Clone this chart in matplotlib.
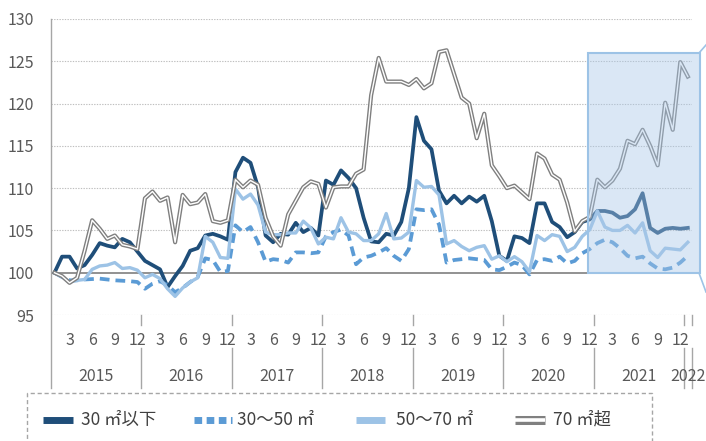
import numpy as np
import matplotlib
matplotlib.use("Agg")
import matplotlib.pyplot as plt
from matplotlib.lines import Line2D
from matplotlib.patches import Rectangle

plt.rcParams['font.family'] = ['Noto Sans CJK JP', 'DejaVu Sans']

# monthly index, Jan 2015 = 100 (Jan 2015 .. Jan 2022)
s_30 = [100, 101.9, 101.9, 100.5, 100.9, 102.1, 103.5, 103.2, 103.0, 104.0,
        103.6, 102.5, 101.4, 100.9, 100.4, 98.3, 99.6, 100.8, 102.6, 102.9,
        104.4, 104.6, 104.3, 103.9, 111.9, 113.6, 113.0, 110.1, 104.4, 103.6,
        104.6, 104.5, 105.9, 104.8, 105.3, 104.4, 110.9, 110.4, 112.1, 111.2,
        110.0, 106.5, 103.7, 103.6, 104.6, 104.4, 106.0, 110.0, 118.4, 115.6,
        114.6, 109.7, 108.2, 109.1, 108.2, 109.0, 108.4, 109.1, 106.1, 102.0,
        101.4, 104.3, 104.1, 103.5, 108.2, 108.2, 106.0, 105.4, 104.2, 104.8,
        106.0, 106.3, 107.3, 107.3, 107.1, 106.5, 106.7, 107.5, 109.4, 105.3,
        104.7, 105.2, 105.3, 105.2, 105.3]
s_30_50 = [100, 99.5, 99.1, 99.1, 99.2, 99.25, 99.3, 99.2, 99.1, 99.05,
           99.0, 98.9, 98.1, 98.7, 99.0, 98.5, 97.7, 98.2, 98.9, 99.5,
           101.7, 101.5, 100.1, 100.2, 105.6, 104.8, 105.4, 103.6, 101.3, 101.6,
           101.5, 101.2, 102.4, 102.4, 102.3, 102.4, 104.3, 104.8, 105.1, 104.4,
           101.0, 101.8, 102.0, 102.4, 102.9, 102.0, 101.4, 102.8, 107.5, 107.4,
           107.5, 105.7, 101.2, 101.5, 101.6, 101.7, 101.6, 101.5, 100.4, 100.3,
           100.7, 101.2, 100.9, 99.8, 101.5, 101.6, 101.4, 101.9, 101.1, 101.4,
           102.3, 102.8, 103.5, 103.9, 103.6, 102.9, 102.0, 101.7, 101.9, 101.1,
           100.5, 100.4, 100.6, 101.2, 102.0]
s_50_70 = [100, 99.5, 98.9, 99.1, 99.2, 100.4, 100.8, 100.9, 101.2, 100.5,
           100.6, 100.3, 99.4, 99.8, 99.3, 98.1, 97.2, 98.2, 98.9, 99.4,
           104.3, 103.6, 101.8, 101.7, 109.9, 108.7, 109.3, 108.0, 104.8, 104.5,
           104.5, 104.7, 104.7, 106.1, 105.3, 103.4, 104.2, 104.0, 106.5, 104.8,
           104.6, 103.8, 103.8, 104.6, 107.0, 104.0, 104.1, 104.8, 110.9, 110.1,
           110.2, 109.2, 103.4, 103.8, 103.1, 102.6, 103.0, 103.2, 101.6, 102.0,
           101.3, 101.9, 101.3, 100.1, 104.4, 103.8, 104.5, 104.3, 102.5, 103.0,
           104.3, 105.1, 107.3, 105.4, 105.0, 105.0, 105.6, 104.7, 105.9, 102.6,
           101.8, 102.9, 102.8, 102.7, 103.6]
s_70 = [100, 99.6, 98.8, 99.4, 102.6, 106.2, 105.2, 104.0, 104.4, 103.3,
        103.1, 102.8, 108.8, 109.6, 108.5, 108.9, 103.6, 109.2, 108.1, 108.3,
        109.3, 106.1, 105.9, 106.2, 111.0, 110.1, 110.9, 110.4, 106.5, 104.3,
        103.2, 106.9, 108.5, 110.1, 110.8, 110.5, 107.7, 110.1, 110.2, 110.2,
        111.7, 112.2, 121.0, 125.4, 122.6, 122.6, 122.6, 122.2, 122.9, 121.8,
        122.4, 126.1, 126.3, 123.5, 120.7, 120.0, 115.9, 118.8, 112.7, 111.4,
        110.0, 110.3, 109.5, 108.7, 114.1, 113.5, 111.6, 111.0, 108.3, 104.9,
        106.1, 106.6, 111.0, 110.1, 110.9, 112.3, 115.6, 115.2, 116.9, 115.0,
        112.7, 120.1, 116.9, 124.9, 123.2]

years = ["2015", "2016", "2017", "2018", "2019", "2020", "2021"]
months = ["3", "6", "9", "12"]
labels = ["30 ㎡以下", "30〜50 ㎡", "50〜70 ㎡", "70 ㎡超"]

c_dark = '#1F4E79'
c_mid = '#5B9BD5'
c_light = '#9DC3E6'
c_gray = '#7F7F7F'
c_text = '#595959'

W, H = 706, 441
fig = plt.figure(figsize=(W / 100, H / 100), dpi=100)
ax = fig.add_axes([50.7 / W, 1 - 315 / H, 640.9 / W, 296 / H])
ax.set_xlim(-0.5, 84.5)
ax.set_ylim(95, 130)
for sp in ax.spines.values():
    sp.set_visible(False)

x = np.arange(len(s_30))

# grid
for v in range(95, 131, 5):
    if v != 100:
        ax.axhline(v, color='#BFBFBF', lw=0.8, ls=(0, (1.2, 1.2)), zorder=1)
ax.axhline(100, color=c_gray, lw=1.2, zorder=1.5)

ax.plot(x, s_30, color=c_dark, lw=2.7, zorder=3)
ax.plot(x, s_30_50, color=c_mid, lw=2.7, ls=(0, (2.6, 1.6)), zorder=3)
ax.plot(x, s_50_70, color=c_light, lw=2.4, zorder=3)
ax.plot(x, s_70, color=c_gray, lw=3.0, zorder=3)
ax.plot(x, s_70, color='white', lw=1.0, zorder=3)

# highlight box for 2021
ax.add_patch(Rectangle((70.7, 100), 14.9, 26, facecolor=(0.66, 0.78, 0.91, 0.42),
                       edgecolor='none', clip_on=False, zorder=5))
ax.add_patch(Rectangle((70.7, 100), 14.9, 26, facecolor='none',
                       edgecolor=c_light, lw=1.5, clip_on=False, zorder=5))
fig.add_artist(Line2D([699 / W, 1.0], [1 - 53 / H, 1 - 45 / H], color=c_light, lw=1.2))
fig.add_artist(Line2D([699 / W, 1.0], [1 - 273 / H, 1 - 292 / H], color=c_light, lw=1.2))

# y axis
ax.set_yticks(range(95, 131, 5))
ax.tick_params(axis='y', length=0, pad=12, labelsize=11.5, labelcolor=c_text)
ax.set_xticks([])
ax.plot([-0.5, -0.5], [130, 86.4], color='#A6A6A6', lw=1, clip_on=False, zorder=2)

# multi-level category axis
for j in range(7):
    for m, lab in enumerate(months):
        ax.text(12 * j + 2 + 3 * m, 92.0, lab, ha='center', va='center',
                fontsize=11.5, color=c_text, clip_on=False)
    ax.text(12 * j + 5.5, 87.7, years[j], ha='center', va='center',
            fontsize=11.5, color=c_text, clip_on=False)
ax.text(84, 87.7, "2022", ha='center', va='center', fontsize=11.5, color=c_text, clip_on=False)
for b in [11.5 + 12 * j for j in range(7)] + [84.5]:
    ax.plot([b, b], [95, 93.8], color='#A6A6A6', lw=1, clip_on=False)
    ax.plot([b, b], [91.1, 86.4], color='#A6A6A6', lw=1, clip_on=False)

# legend
fig.add_artist(Rectangle((27 / W, -0.02), 625 / W, 0.02 + 48 / H, transform=fig.transFigure,
                         facecolor='none', edgecolor='#A6A6A6', lw=1, ls=(0, (3, 2))))
ly = 1 - 420 / H
fig.add_artist(Line2D([43 / W, 73 / W], [ly, ly], color=c_dark, lw=5, solid_capstyle='butt'))
fig.add_artist(Line2D([194 / W, 232 / W], [ly, ly], color=c_mid, lw=5,
                      ls=(0, (1.1, 0.65)), dash_capstyle='butt'))
fig.add_artist(Line2D([356 / W, 385 / W], [ly, ly], color=c_light, lw=5, solid_capstyle='butt'))
fig.add_artist(Line2D([515 / W, 545 / W], [ly, ly], color='#808080', lw=6.5, solid_capstyle='butt'))
fig.add_artist(Line2D([515 / W, 545 / W], [ly, ly], color='white', lw=2.6, solid_capstyle='butt'))
for xp, lab in zip([81, 237, 396, 553], labels):
    fig.text(xp / W, ly, lab, ha='left', va='center', fontsize=12.5, color='#404040')

fig.savefig("out.png", dpi=100)
